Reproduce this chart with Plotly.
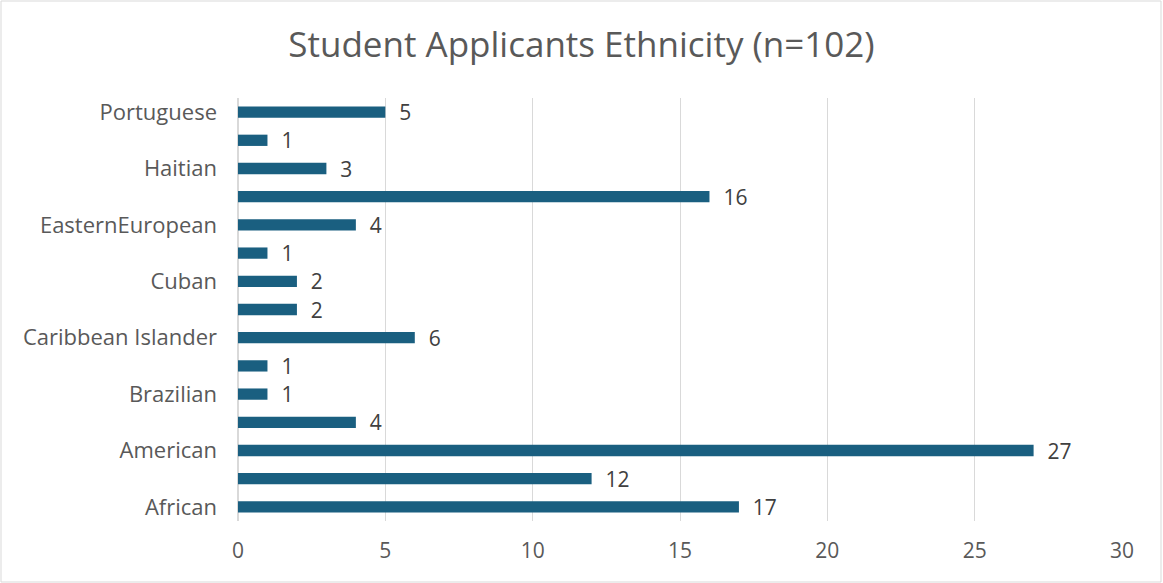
import plotly.graph_objects as go

# categories bottom -> top; unlabeled rows in the reference get placeholder names (labels hidden)
categories = ["African", "African American", "American", "Asian", "Brazilian", "Cape Verdean",
              "Caribbean Islander", "Chinese", "Cuban", "Dominican", "EasternEuropean",
              "European", "Haitian", "Hispanic", "Portuguese"]
values = [17, 12, 27, 4, 1, 1, 6, 2, 2, 1, 4, 16, 3, 1, 5]
shown_labels = ["African", "American", "Brazilian", "Caribbean Islander", "Cuban",
                "EasternEuropean", "Haitian", "Portuguese"]
x_ticks = [0, 5, 10, 15, 20, 25, 30]

BAR = "#1a5f80"
FONT = "Open Sans"

fig = go.Figure(go.Bar(
    y=categories, x=values, orientation="h",
    marker=dict(color=BAR, line=dict(width=0)),
    width=0.4,
    text=values, texttemplate="\u00a0\u00a0%{x}", textposition="outside", cliponaxis=False,
    constraintext="none",
    textfont=dict(family=FONT, size=21, color="#404040"),
))

L, R, T, B = 238, 41, 98, 62
W, H = 1163, 583
pw, ph = W - L - R, H - T - B

fig.update_layout(
    width=W, height=H,
    margin=dict(l=L, r=R, t=T, b=B),
    paper_bgcolor="white", plot_bgcolor="white",
    showlegend=False,
    title=dict(text="Student Applicants Ethnicity (n=102)", x=0.5, xanchor="center",
               y=1 - 45 / H, yanchor="middle",
               font=dict(family=FONT, size=35, color="#595959")),
    xaxis=dict(range=[0, 30], tickvals=x_ticks, showgrid=True, gridcolor="#d9d9d9", gridwidth=1,
               zeroline=True, zerolinecolor="#d9d9d9", showline=False, ticks="",
               tickfont=dict(family=FONT, size=21, color="#595959"), ticklabelstandoff=15),
    yaxis=dict(type="category", categoryorder="array", categoryarray=categories,
               tickvals=shown_labels, ticktext=shown_labels, showgrid=False, ticks="",
               tickfont=dict(family=FONT, size=22, color="#595959"), ticklabelstandoff=20),
    bargap=0.6,
    shapes=[dict(type="rect", xref="paper", yref="paper",
                 x0=-(L - 1) / pw, x1=(W - L - 2) / pw,
                 y0=-(B - 1) / ph, y1=(ph + T - 1) / ph,
                 line=dict(color="#d9d9d9", width=1), fillcolor="rgba(0,0,0,0)", layer="below")],
)

fig.write_html("out.html", config={"displayModeBar": False},
               post_script="document.body.style.margin='0';document.body.style.overflow='hidden';")
